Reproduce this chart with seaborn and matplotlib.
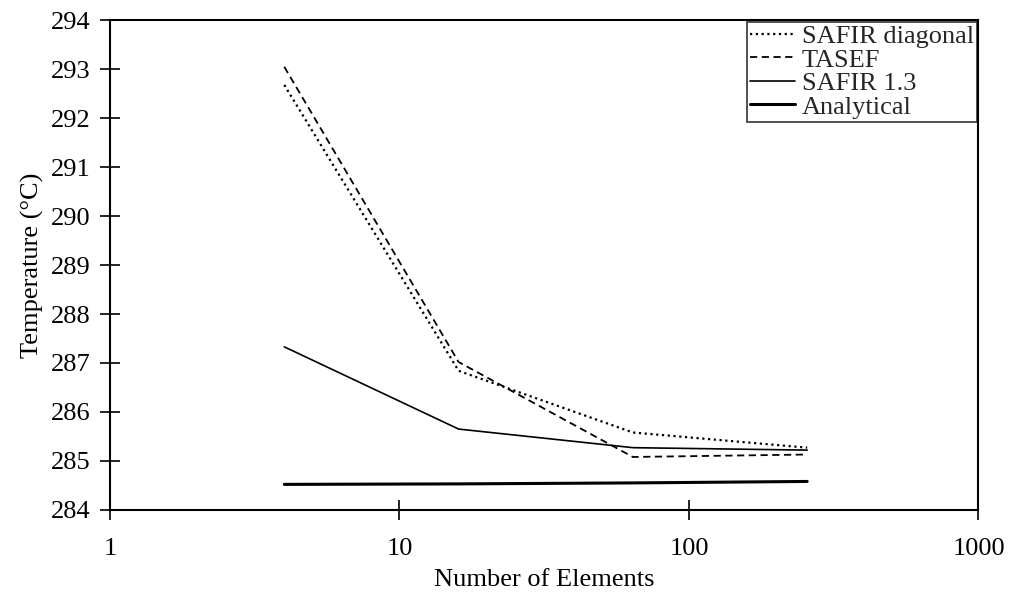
import matplotlib
matplotlib.use("Agg")
import matplotlib.pyplot as plt
import seaborn as sns
import pandas as pd
from matplotlib.ticker import FixedLocator, NullLocator, FixedFormatter

sns.set_theme(style="white")
plt.rcParams['font.family'] = ['Liberation Serif', 'DejaVu Serif']

elements = [4, 16, 64, 256]
safir_diag = [292.68, 286.84, 285.58, 285.27]
tasef = [293.05, 287.02, 285.08, 285.13]
safir13 = [287.33, 285.65, 285.27, 285.22]
analytical = [284.52, 284.53, 284.55, 284.58]

series = [
    ("SAFIR diagonal", safir_diag, (0, (1, 1.6)), 1.6),
    ("TASEF", tasef, (0, (4, 2.5)), 1.3),
    ("SAFIR 1.3", safir13, "-", 1.2),
    ("Analytical", analytical, "-", 2.2),
]

fig = plt.figure(figsize=(10.23, 5.97), dpi=100)
ax = fig.add_axes([0.1075, 0.146, 0.849, 0.82])

for name, vals, ls, lw in series:
    df = pd.DataFrame({"n": elements, "T": vals})
    sns.lineplot(data=df, x="n", y="T", ax=ax, color="black", linestyle=ls,
                 linewidth=lw, label=name, estimator=None, sort=False)

ax.set_xscale("log")
ax.set_xlim(1, 1000)
ax.set_ylim(284, 294)
ax.xaxis.set_major_locator(FixedLocator([1, 10, 100, 1000]))
ax.xaxis.set_major_formatter(FixedFormatter(["1", "10", "100", "1000"]))
ax.xaxis.set_minor_locator(NullLocator())
ax.set_yticks(range(284, 295))
ax.tick_params(axis="both", which="major", direction="inout", length=14, width=1.2,
               color="black", labelsize=19, labelcolor="black",
               bottom=True, left=True, top=False, right=False)
ax.tick_params(axis="y", pad=7)
ax.tick_params(axis="x", pad=13)
for s in ax.spines.values():
    s.set_color("black")
    s.set_linewidth(1.5)
    s.set_visible(True)

ax.set_xlabel("Number of Elements", fontsize=19, color="black", labelpad=7)
ax.set_ylabel("Temperature (°C)", fontsize=19, color="black", labelpad=5)

leg = ax.legend(loc="upper right", borderaxespad=0.05, fontsize=19, frameon=True,
                fancybox=False, handlelength=1.7, handletextpad=0.25,
                borderpad=0.12, labelspacing=0.0)
leg.get_frame().set_edgecolor("black")
leg.get_frame().set_linewidth(1.2)

fig.savefig("out.png", dpi=100, facecolor="white")
